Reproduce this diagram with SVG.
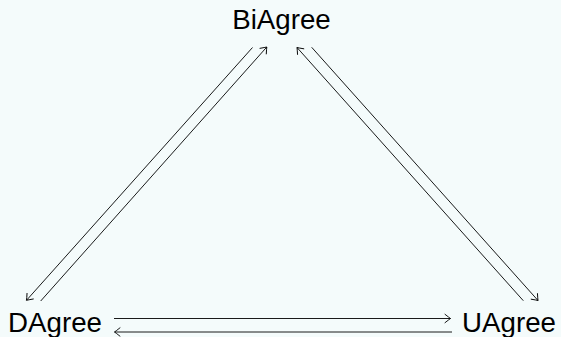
<svg xmlns="http://www.w3.org/2000/svg" width="561" height="337" viewBox="0 0 561 337">
  <defs>
    <style>
      .lbl { font-family: "Liberation Sans", Arial, sans-serif; font-size: 27.7px; fill: #000; text-anchor: middle; }
      .edge { stroke: #000; stroke-width: 0.9; fill: none; marker-end: url(#to); }
    </style>
    <marker id="to" markerUnits="userSpaceOnUse" viewBox="-8 -6 10 12" refX="0" refY="0" markerWidth="10" markerHeight="12" orient="auto">
      <path d="M -5.5 -4.2 Q -1.5 -1 0 0 Q -1.5 1 -5.5 4.2" fill="none" stroke="#000" stroke-width="0.9" stroke-linecap="round"/>
    </marker>
  </defs>
  <rect x="0" y="0" width="561" height="337" fill="#f4fbfb"/>
  <g id="connectors">
    <line class="edge" x1="252.5" y1="47.5" x2="26.5" y2="300.3"/>
    <line class="edge" x1="40.7" y1="301" x2="266.8" y2="47"/>
    <line class="edge" x1="523.3" y1="300.7" x2="297" y2="47.5"/>
    <line class="edge" x1="311.7" y1="47.3" x2="538" y2="300.5"/>
    <line class="edge" x1="114" y1="318.5" x2="450.5" y2="318.5"/>
    <line class="edge" x1="452" y1="332" x2="114.5" y2="332"/>
  </g>
  <g id="BiAgree"><text class="lbl" x="281.5" y="29">BiAgree</text></g>
  <g id="DAgree"><text class="lbl" x="55" y="332">DAgree</text></g>
  <g id="UAgree"><text class="lbl" x="509" y="332">UAgree</text></g>
</svg>
